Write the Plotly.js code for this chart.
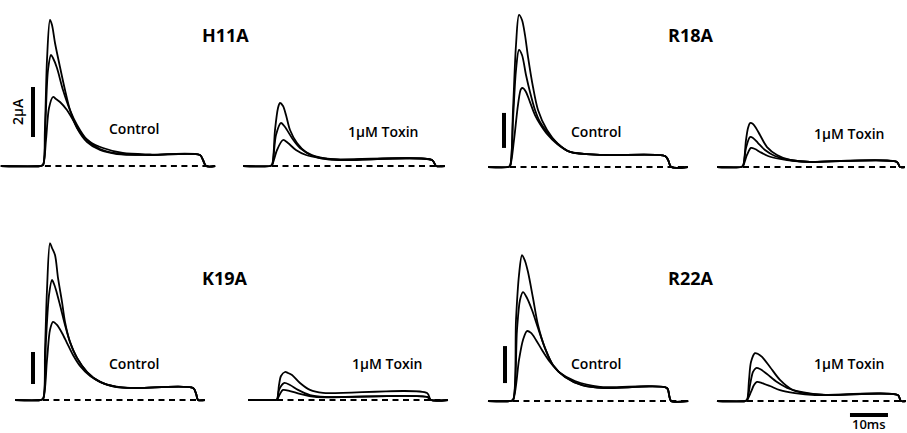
<!DOCTYPE html>
<html><head><meta charset="utf-8">
<script src="https://cdn.plot.ly/plotly-3.0.1.min.js"></script>
<style>html,body{margin:0;padding:0;background:#fff}#chart{width:907px;height:433px}</style>
</head><body><div id="chart"></div>
<script>
// ---------- DATA (time in ms from pulse onset, current in µA) ----------
// H11A control
const h11aCtrlTopT = [-11.1,-0.8,0,0.5,1.05,1.84,2.37,3.16,4.47,5.79,7.1,8.95,11.6,15,19.5,28.2,41.3,42.1,42.9,45.3];
const h11aCtrlTopI = [0,0,0.04,1.44,4.24,5.84,5.64,4.92,3.96,3.04,2.24,1.52,0.96,0.64,0.48,0.44,0.44,0.24,0,0];
const h11aCtrlMidT = [-11.1,-0.8,0,0.66,1.32,2.1,2.63,3.68,5.26,7.1,8.95,11.6,15,19.5,28.2,41.3,42.1,42.9,45.3];
const h11aCtrlMidI = [0,0,0.04,1.84,3.84,4.44,4.32,3.92,3.04,2.24,1.64,1.04,0.68,0.5,0.44,0.44,0.24,0,0];
const h11aCtrlLowT = [-11.1,-0.8,0,0.79,1.58,2.63,3.42,4.47,6.3,7.9,9.7,12.4,15.8,21,28.2,41.3,42.1,42.9,45.3];
const h11aCtrlLowI = [0,0,0.04,1.04,2.32,2.76,2.68,2.56,2.24,1.84,1.36,0.96,0.72,0.52,0.46,0.44,0.24,0,0];
// H11A 1 µM toxin
const h11aToxTopT = [-7.6,-0.5,0,0.79,1.58,2.1,2.9,3.68,4.74,6.58,9.2,12.6,17.9,42.1,43.2,45.5];
const h11aToxTopI = [0,0,0.04,1.44,2.32,2.52,2.4,2.04,1.44,0.92,0.52,0.32,0.24,0.24,0,0];
const h11aToxMidT = [-7.6,-0.5,0,1.05,2.37,3.42,5.26,7.37,10.5,15.3,42.1,43.2,45.5];
const h11aToxMidI = [0,0,0.04,1.24,1.72,1.56,1.12,0.72,0.44,0.28,0.24,0,0];
const h11aToxLowT = [-7.6,-0.5,0,1.32,2.9,4.2,6.3,8.95,12.6,17.9,42.1,43.2,45.5];
const h11aToxLowI = [0,0,0.04,0.64,1.04,0.92,0.64,0.44,0.32,0.24,0.24,0,0];
// R18A control
const r18aCtrlTopT = [-5.79,-0.53,0,0.79,1.58,2.37,3.16,3.95,4.74,6.05,7.37,9.74,12.4,15.8,24.5,40.8,41.6,42.4,46.8];
const r18aCtrlTopI = [0,0,0.06,3.26,6.97,8.69,8.4,7.54,6.29,4.57,3.26,2.11,1.37,0.86,0.69,0.63,0.4,0,0];
const r18aCtrlMidT = [-5.79,-0.53,0,0.79,1.58,2.37,3.16,4.21,5.26,6.58,7.9,9.74,12.4,15.8,24.5,40.8,41.6,42.4,46.8];
const r18aCtrlMidI = [0,0,0.06,2.69,5.54,6.69,6.4,5.26,4.29,3.26,2.57,2.0,1.37,0.86,0.69,0.63,0.4,0,0];
const r18aCtrlLowT = [-5.79,-0.53,0,1.05,2.1,2.9,3.42,4.21,5.26,6.58,7.9,9.74,12.4,15.8,24.5,40.8,41.6,42.4,46.8];
const r18aCtrlLowI = [0,0,0.06,1.54,3.54,4.46,4.51,4.29,3.71,2.97,2.46,1.89,1.31,0.86,0.69,0.63,0.4,0,0];
// R18A 1 µM toxin
const r18aToxTopT = [-6.84,-0.5,0,0.79,1.32,1.84,2.63,3.42,4.47,6.32,8.95,12.4,17.6,40.5,41.3,42.6];
const r18aToxTopI = [0,0,0.06,1.54,2.23,2.51,2.46,2.23,1.83,1.14,0.69,0.4,0.29,0.29,0,0];
const r18aToxMidT = [-6.84,-0.5,0,0.79,1.84,2.63,3.95,5.79,8.4,12.4,17.6,40.5,41.3,42.6];
const r18aToxMidI = [0,0,0.06,1.09,1.71,1.66,1.37,0.97,0.63,0.4,0.29,0.29,0,0];
const r18aToxLowT = [-6.84,-0.5,0,1.05,2.1,3.16,4.47,6.58,9.74,13.7,17.6,40.5,41.3,42.6];
const r18aToxLowI = [0,0,0.06,0.69,1.09,1.03,0.86,0.63,0.46,0.34,0.29,0.29,0,0];
// K19A control
const k19aCtrlTopT = [-7.37,-0.79,0,0.53,1.05,1.84,2.37,3.16,3.95,5.0,5.79,7.1,8.95,11.6,15,19.5,24.7,39.5,40.3,40.8,42.6];
const k19aCtrlTopI = [0,0,0.06,3.13,6.88,9.81,9.5,9.06,7.63,6.13,4.88,3.63,2.63,1.75,1.13,0.81,0.75,0.75,0.38,0,0];
const k19aCtrlMidT = [-7.37,-0.79,0,0.79,1.58,2.37,2.9,3.42,4.47,5.79,7.1,8.95,11.6,15,19.5,24.7,39.5,40.3,40.8,42.6];
const k19aCtrlMidI = [0,0,0.06,3.75,6.56,7.5,7.25,6.88,5.94,4.69,3.63,2.63,1.75,1.13,0.81,0.75,0.75,0.38,0,0];
const k19aCtrlLowT = [-7.37,-0.79,0,1.05,1.84,2.63,3.68,5.0,6.32,7.9,9.74,12.4,15.8,20.3,24.7,39.5,40.3,40.8,42.6];
const k19aCtrlLowI = [0,0,0.06,2.5,4.38,4.88,4.69,4.19,3.56,2.81,2.13,1.5,1.06,0.81,0.75,0.75,0.38,0,0];
// K19A 1 µM toxin
const k19aToxTopT = [-7.6,-0.5,0,0.53,1.05,2.1,2.9,3.95,6.05,8.68,12.1,39.5,40.5,45];
const k19aToxTopI = [0,0,0.03,0.94,1.5,1.75,1.69,1.56,1.06,0.63,0.44,0.44,0,0];
const k19aToxMidT = [-7.6,-0.5,0,0.53,1.84,3.42,5.53,8.68,12.6,39.5,40.5,45];
const k19aToxMidI = [0,0,0.03,0.63,1.06,0.94,0.63,0.31,0.19,0.19,0,0];
const k19aToxLowT = [-7.6,-0.5,0,0.79,1.58,3.42,6.05,10,39.5,40.5,45];
const k19aToxLowI = [0,0,0.03,0.38,0.63,0.56,0.38,0.19,0.19,0,0];
// R22A control
const r22aCtrlTopT = [-6.58,-0.79,0,0.79,1.58,2.37,3.16,3.95,5.26,6.58,8.42,10.5,13.7,18.2,24.2,40.5,41.1,41.6,46.1];
const r22aCtrlTopI = [0,0,0.05,4.38,6.81,7.89,7.57,6.97,5.57,4.11,2.86,1.95,1.3,0.86,0.7,0.7,0.3,0,0];
const r22aCtrlMidT = [-6.58,-0.79,0,1.05,1.84,2.63,3.68,5.0,6.58,8.42,10.5,13.7,18.2,24.2,40.5,41.1,41.6,46.1];
const r22aCtrlMidI = [0,0,0.05,3.84,5.46,5.89,5.57,4.92,3.95,2.86,1.95,1.3,0.86,0.7,0.7,0.3,0,0];
const r22aCtrlLowT = [-6.58,-0.79,0,1.58,2.63,3.68,4.74,6.05,7.63,9.74,12.4,16.3,22.9,40.5,41.1,41.6,46.1];
const r22aCtrlLowI = [0,0,0.05,2.22,3.3,3.78,3.68,3.3,2.76,2.11,1.51,1.08,0.76,0.7,0.3,0,0];
// R22A 1 µM toxin
const r22aToxTopT = [-7.9,-0.5,0,0.53,1.05,2.1,2.9,3.95,6.05,8.68,12.1,16.6,21.8,39.7,40.5,41.8];
const r22aToxTopI = [0,0,0.05,1.14,2.11,2.59,2.54,2.38,1.84,1.14,0.59,0.38,0.32,0.32,0,0];
const r22aToxMidT = [-7.9,-0.5,0,0.79,1.58,2.37,3.42,5.26,7.9,11.3,16.1,21.8,39.7,40.5,41.8];
const r22aToxMidI = [0,0,0.05,0.86,1.57,1.78,1.73,1.46,1.03,0.65,0.43,0.32,0.32,0,0];
const r22aToxLowT = [-7.9,-0.5,0,1.05,1.84,2.63,3.95,6.05,8.68,12.6,17.9,39.7,40.5,41.8];
const r22aToxLowI = [0,0,0.05,0.49,0.86,1.03,0.97,0.81,0.59,0.43,0.32,0.32,0,0];

// zero-current reference (dashed) spans, ms
const baseSpanH11aCtrl = [0.5,45.3], baseSpanH11aTox = [0,44.5];
const baseSpanR18aCtrl = [0,46.8],   baseSpanR18aTox = [0,42.6];
const baseSpanK19aCtrl = [0,41.5],   baseSpanK19aTox = [0,45];
const baseSpanR22aCtrl = [0,46.1],   baseSpanR22aTox = [0,41.8];

// scale bars
const currentBarUA = [1.16,3.16];      // 2 µA bar, H11A
const currentBarR18a = [1.09,3.09];
const currentBarK19a = [1.0,3.0];
const currentBarR22a = [0.97,2.97];
const timeBarMs = [27.1,37.1];         // 10 ms bar
const timeBarLevel = -0.76;

const mutants = ["H11A","R18A","K19A","R22A"];
const conditionLabels = ["Control","1\u03bcM Toxin"];

// ---------- LAYOUT GEOMETRY ----------
const W = 907, H = 433, PX_PER_MS = 3.8;
function xAx(onsetPx){return {domain:[0,1],range:[-onsetPx/PX_PER_MS,(W-onsetPx)/PX_PER_MS],visible:false,fixedrange:true};}
function yAx(basePx,pxPerUA){return {domain:[0,1],range:[(basePx-H)/pxPerUA,basePx/pxPerUA],visible:false,fixedrange:true};}

const LW = 1.8;
const traces = [];
function add(x,y,xa,ya,extra){
  traces.push(Object.assign({type:'scatter',mode:'lines',x:x,y:y,xaxis:xa,yaxis:ya,
    line:{color:'#000',width:LW,shape:'spline',smoothing:0.85},hoverinfo:'skip',showlegend:false},extra||{}));
}
function dashed(span,xa,ya){
  add(span,[0,0],xa,ya,{line:{color:'#000',width:2,dash:'6px,4.5px'}});
}
function vbar(t,range,xa,ya){
  add([t,t],range,xa,ya,{line:{color:'#000',width:4}});
}

// H11A
add(h11aCtrlLowT,h11aCtrlLowI,'x','y'); add(h11aCtrlMidT,h11aCtrlMidI,'x','y'); add(h11aCtrlTopT,h11aCtrlTopI,'x','y');
dashed(baseSpanH11aCtrl,'x','y');
add(h11aToxLowT,h11aToxLowI,'x2','y'); add(h11aToxMidT,h11aToxMidI,'x2','y'); add(h11aToxTopT,h11aToxTopI,'x2','y');
dashed(baseSpanH11aTox,'x2','y');
vbar(-2.63,currentBarUA,'x','y');
// R18A
add(r18aCtrlLowT,r18aCtrlLowI,'x3','y2'); add(r18aCtrlMidT,r18aCtrlMidI,'x3','y2'); add(r18aCtrlTopT,r18aCtrlTopI,'x3','y2');
dashed(baseSpanR18aCtrl,'x3','y2');
add(r18aToxLowT,r18aToxLowI,'x4','y2'); add(r18aToxMidT,r18aToxMidI,'x4','y2'); add(r18aToxTopT,r18aToxTopI,'x4','y2');
dashed(baseSpanR18aTox,'x4','y2');
vbar(-1.58,currentBarR18a,'x3','y2');
// K19A
add(k19aCtrlLowT,k19aCtrlLowI,'x5','y3'); add(k19aCtrlMidT,k19aCtrlMidI,'x5','y3'); add(k19aCtrlTopT,k19aCtrlTopI,'x5','y3');
dashed(baseSpanK19aCtrl,'x5','y3');
add(k19aToxLowT,k19aToxLowI,'x6','y3'); add(k19aToxMidT,k19aToxMidI,'x6','y3'); add(k19aToxTopT,k19aToxTopI,'x6','y3');
dashed(baseSpanK19aTox,'x6','y3');
vbar(-2.63,currentBarK19a,'x5','y3');
// R22A
add(r22aCtrlLowT,r22aCtrlLowI,'x7','y4'); add(r22aCtrlMidT,r22aCtrlMidI,'x7','y4'); add(r22aCtrlTopT,r22aCtrlTopI,'x7','y4');
dashed(baseSpanR22aCtrl,'x7','y4');
add(r22aToxLowT,r22aToxLowI,'x8','y4'); add(r22aToxMidT,r22aToxMidI,'x8','y4'); add(r22aToxTopT,r22aToxTopI,'x8','y4');
dashed(baseSpanR22aTox,'x8','y4');
vbar(-2.1,currentBarR22a,'x7','y4');
add(timeBarMs,[timeBarLevel,timeBarLevel],'x8','y4',{line:{color:'#000',width:4}});

const FONT = "Open Sans, Noto Sans, Arial, sans-serif";
function px2paper(x,y){return {x:x/W,y:1-y/H};}
function ann(text,x,y,size,weight,extra){
  const p = px2paper(x,y);
  return Object.assign({text:text,xref:'paper',yref:'paper',x:p.x,y:p.y,showarrow:false,
    xanchor:'center',yanchor:'middle',font:{family:FONT,size:size,color:'#000',weight:weight}},extra||{});
}
const titlePos = [[225,35],[690,35],[225,278],[690,278]];
const ctrlPos = [[134,128],[596,131],[134,363],[596,363]];
const toxPos = [[383,132],[849,133],[387,363],[849,363]];
const annotations = [];
mutants.forEach((m,i)=>{
  annotations.push(ann(m,titlePos[i][0],titlePos[i][1],18,700));
  annotations.push(ann(conditionLabels[0],ctrlPos[i][0],ctrlPos[i][1],14,600));
  annotations.push(ann(conditionLabels[1],toxPos[i][0],toxPos[i][1],14,600));
});
annotations.push(ann("2\u03bcA",17,112,14,600,{textangle:-90}));
annotations.push(ann("10ms",869,424,13,600));

const layout = {
  width:W,height:H,margin:{l:0,r:0,t:0,b:0},
  paper_bgcolor:'#fff',plot_bgcolor:'rgba(0,0,0,0)',showlegend:false,
  xaxis:xAx(43), xaxis2:xAx(272), xaxis3:xAx(510), xaxis4:xAx(743),
  xaxis5:xAx(43), xaxis6:xAx(277), xaxis7:xAx(513), xaxis8:xAx(747),
  yaxis:yAx(166,25), yaxis2:yAx(167,17.5), yaxis3:yAx(400,16), yaxis4:yAx(401,18.5),
  annotations:annotations
};
Plotly.newPlot('chart',traces,layout,{staticPlot:true,displayModeBar:false});
</script></body></html>
